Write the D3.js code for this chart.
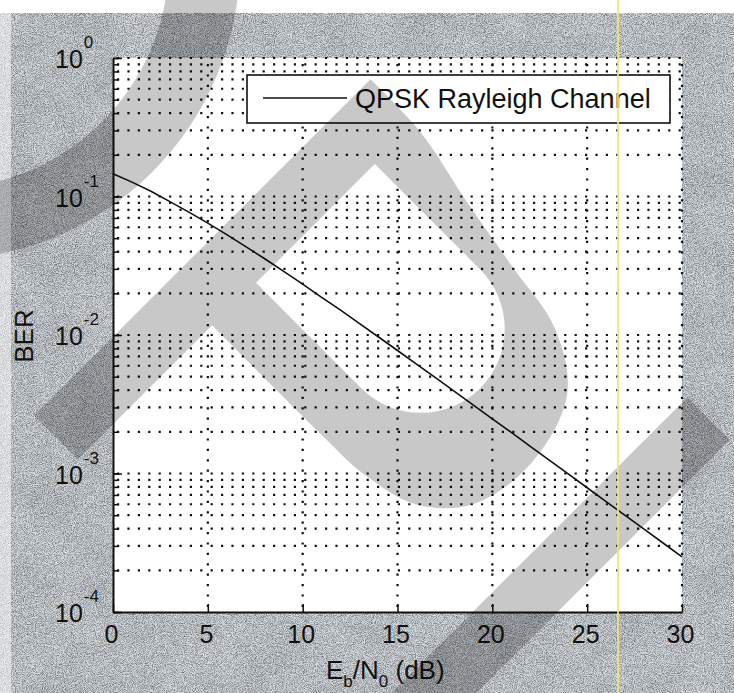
<!DOCTYPE html>
<html>
<head>
<meta charset="utf-8">
<script src="https://cdn.jsdelivr.net/npm/d3@7"></script>
<style>
  body { margin: 0; background: #fff; }
  svg { display: block; }
  text { font-family: "Liberation Sans", Arial, sans-serif; fill: #111; }
</style>
</head>
<body>
<svg id="chart" width="734" height="693"></svg>
<script>
// Eb/N0 in dB and the simulated bit error rate of QPSK over a Rayleigh channel
const ebn0 = [0, 1, 2, 3, 4, 5, 6, 7, 8, 9, 10, 11, 12, 13, 14, 15, 16, 17, 18, 19, 20,
              21, 22, 23, 24, 25, 26, 27, 28, 29, 30];
const ber = [0.146, 0.127, 0.109, 0.0919, 0.0771, 0.0642, 0.0530, 0.0435, 0.0355, 0.0288,
             0.0233, 0.0187, 0.0151, 0.0121, 0.00967, 0.00773, 0.00617, 0.00492, 0.00392,
             0.00312, 0.00248, 0.00198, 0.00157, 0.00125, 0.000993, 0.000789, 0.000627,
             0.000498, 0.000396, 0.000315, 0.000250];
const xTicks = [0, 5, 10, 15, 20, 25, 30];
const yDecades = [1e-4, 1e-3, 1e-2, 1e-1, 1];
const seriesName = "QPSK Rayleigh Channel";

const W = 734, H = 693;
const plot = { left: 113, right: 682, top: 58, bottom: 612 };

const svg = d3.select("#chart");
const defs = svg.append("defs");

// paper grain filters
function noiseFilter(id, freq, octaves, seed, gain, bias) {
  const f = defs.append("filter").attr("id", id)
    .attr("x", 0).attr("y", 0).attr("width", 1).attr("height", 1)
    .attr("color-interpolation-filters", "sRGB");
  f.append("feTurbulence").attr("type", "fractalNoise")
    .attr("baseFrequency", freq).attr("numOctaves", octaves).attr("seed", seed);
  f.append("feColorMatrix").attr("type", "matrix").attr("values",
    `${gain} 0 0 0 ${bias}  ${gain} 0 0 0 ${bias + 0.01}  ${gain} 0 0 0 ${bias + 0.03}  0 0 0 0 1`);
}
noiseFilter("grain", 1.1, 2, 11, 1.7, -0.14);
noiseFilter("mottle", 0.025, 2, 4, 1.6, -0.1);

// page and scanned background
svg.append("rect").attr("width", W).attr("height", H).attr("fill", "#fff");
svg.append("rect").attr("y", 13).attr("width", W).attr("height", H - 13).attr("fill", "#b2b9bc");
svg.append("rect").attr("y", 13).attr("width", W).attr("height", H - 13)
  .attr("filter", "url(#mottle)").attr("opacity", 0.12);
svg.append("rect").attr("y", 13).attr("width", W).attr("height", H - 13)
  .attr("filter", "url(#grain)").attr("opacity", 0.5);
svg.append("rect").attr("y", 13).attr("width", 11).attr("height", H - 13)
  .attr("fill", "#fff").attr("opacity", 0.5);

// scales
const x = d3.scaleLinear().domain([0, 30]).range([plot.left, plot.right]);
const y = d3.scaleLog().domain([1e-4, 1]).range([plot.bottom, plot.top]);

// axes background
svg.append("rect")
  .attr("x", plot.left).attr("y", plot.top)
  .attr("width", plot.right - plot.left).attr("height", plot.bottom - plot.top)
  .attr("fill", "#fff");

// dotted grid
const allYTicks = y.ticks();
const grid = svg.append("g").attr("stroke", "#111").attr("stroke-width", 2.2)
  .attr("stroke-dasharray", "2.2 8.2");
grid.selectAll("line.h")
  .data(allYTicks.filter(d => d > 1e-4))
  .join("line").attr("class", "h")
  .attr("x1", plot.left).attr("x2", plot.right)
  .attr("y1", d => y(d)).attr("y2", d => y(d))
  .attr("stroke-dashoffset", -4);
grid.selectAll("line.v")
  .data(xTicks.filter(d => d > 0))
  .join("line").attr("class", "v")
  .attr("x1", d => x(d)).attr("x2", d => x(d))
  .attr("y1", plot.bottom).attr("y2", plot.top)
  .attr("stroke-dashoffset", -5);

// BER curve
const line = d3.line().x((d, i) => x(ebn0[i])).y(d => y(d));
svg.append("path").datum(ber)
  .attr("d", line)
  .attr("fill", "none").attr("stroke", "#111").attr("stroke-width", 1.6);

// y axis: minor ticks, then decades with labels
const yMinor = svg.append("g").attr("transform", `translate(${plot.left},0)`)
  .call(d3.axisLeft(y).tickValues(allYTicks).tickSize(-6).tickFormat(""));
yMinor.select(".domain").remove();
yMinor.selectAll(".tick line").attr("stroke", "#111").attr("stroke-width", 1.5);

const yAxis = svg.append("g").attr("transform", `translate(${plot.left},0)`)
  .call(d3.axisLeft(y).tickValues(yDecades).tickSizeInner(-9).tickSizeOuter(0));
yAxis.attr("font-family", null).attr("font-size", null);
yAxis.select(".domain").attr("stroke", "#111").attr("stroke-width", 2);
yAxis.selectAll(".tick line").attr("stroke", "#111").attr("stroke-width", 1.5);
yAxis.selectAll(".tick text").each(function (d) {
  const t = d3.select(this);
  t.text(null).attr("x", -58).attr("y", 9.5).attr("dy", null)
    .attr("text-anchor", "start").attr("font-size", 25).attr("fill", "#111");
  t.append("tspan").text("10");
  t.append("tspan").attr("dy", -20).attr("dx", 1).attr("font-size", 17)
    .text(Math.round(Math.log10(d)));
});

// x axis
const xAxis = svg.append("g").attr("transform", `translate(0,${plot.bottom})`)
  .call(d3.axisBottom(x).tickValues(xTicks).tickSizeInner(-8).tickSizeOuter(0)
    .tickPadding(13).tickFormat(d3.format("d")));
xAxis.attr("font-family", null).attr("font-size", null);
xAxis.select(".domain").attr("stroke", "#111").attr("stroke-width", 2);
xAxis.selectAll(".tick line").attr("stroke", "#111").attr("stroke-width", 1.5);
xAxis.selectAll(".tick text").attr("font-size", 25).attr("fill", "#111").attr("dx", -2);

// axis titles
const xt = svg.append("text").attr("x", 326).attr("y", 679).attr("font-size", 26);
xt.append("tspan").text("E");
xt.append("tspan").attr("font-size", 17).attr("dy", 8).text("b");
xt.append("tspan").attr("dy", -8).text("/N");
xt.append("tspan").attr("font-size", 17).attr("dy", 8).text("0");
xt.append("tspan").attr("dy", -8).text(" (dB)");

svg.append("text")
  .attr("transform", "translate(33,336) rotate(-90)")
  .attr("text-anchor", "middle").attr("font-size", 26)
  .text("BER");

// legend
const lg = svg.append("g");
lg.append("rect").attr("x", 247).attr("y", 75).attr("width", 423).attr("height", 48)
  .attr("fill", "#fff").attr("stroke", "#111").attr("stroke-width", 1.6);
lg.append("line").attr("x1", 263).attr("x2", 347).attr("y1", 98).attr("y2", 98)
  .attr("stroke", "#111").attr("stroke-width", 1.6);
lg.append("text").attr("x", 355).attr("y", 108).attr("font-size", 27).text(seriesName);

// watermark overlay
const wm = svg.append("g").attr("fill", "#000").attr("fill-opacity", 0.215)
  .attr("fill-rule", "evenodd");

// ring sweeping through the upper-left corner
const ringPath = d3.path();
ringPath.arc(-60, -40, 300, 0, 2 * Math.PI);
ringPath.closePath();
ringPath.moveTo(-60 + 229, -40);
ringPath.arc(-60, -40, 229, 0, 2 * Math.PI);
ringPath.closePath();
wm.append("path").attr("d", ringPath.toString());

// tilted letter: stem plus rounded bowl, drawn in a frame rotated by -45 degrees
const bowl = [[206, 318], [204, 390], [188, 470], [174, 549], [160, 625], [122, 680],
              [50, 703], [-20, 692], [-62, 652], [-78, 592], [-80, 540], [-80, 380]];
const bowlD = d3.line().curve(d3.curveCatmullRom.alpha(0.5))(bowl).replace(/^M/, "L");
const letterD = "M-270,318" + bowlD + "L-270,380Z" +
  "M-19,381L149,381L149,530A84,84 0 0 1 -19,530Z";
wm.append("path").attr("transform", "rotate(-45)").attr("d", letterD);

// diagonal stroke across the lower right
wm.append("rect").attr("transform", "rotate(-45)")
  .attr("x", -450).attr("y", 767).attr("width", 655).attr("height", 60);

// thin yellow scan line
svg.append("line").attr("x1", 618).attr("x2", 618).attr("y1", 0).attr("y2", H)
  .attr("stroke", "#efe873").attr("stroke-width", 2).attr("opacity", 0.85);
</script>
</body>
</html>
